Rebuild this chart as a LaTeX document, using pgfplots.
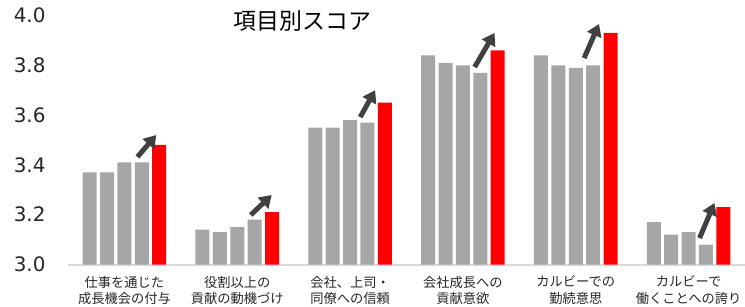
\documentclass[border=0pt]{standalone}
\usepackage{fontspec}
\setmainfont{DejaVu Sans}
\newfontfamily\cjk{Noto Sans CJK JP}
\usepackage{pgfplots}
\pgfplotsset{compat=1.18}
\usetikzlibrary{arrows.meta}
\definecolor{barg}{HTML}{A6A6A6}
\definecolor{arr}{HTML}{404040}
\definecolor{axl}{HTML}{D9D9D9}
\definecolor{txt}{HTML}{262626}
\begin{document}
\begin{tikzpicture}
\begin{axis}[name=ax, scale only axis, width=677bp, height=249bp,
  xmin=-0.5, xmax=5.5, ymin=3, ymax=4, clip mode=individual,
  axis x line*=bottom, axis y line*=left,
  x axis line style={draw=axl, line width=2bp, -},
  y axis line style={draw=none},
  major tick length=0pt,
  xtick={0,1,2,3,4,5},
  xticklabels={{仕事を通じた\\成長機会の付与},{役割以上の\\貢献の動機づけ},{会社、上司・\\同僚への信頼},{会社成長への\\貢献意欲},{カルビーでの\\勤続意思},{カルビーで\\働くことへの誇り}},
  xticklabel style={align=center, font=\cjk\fontsize{13.3}{16.5}\selectfont, text=txt, yshift=-8bp},
  ytick={3,3.2,3.4,3.6,3.8,4},
  yticklabel style={/pgf/number format/fixed, /pgf/number format/fixed zerofill, /pgf/number format/precision=1, /pgf/number format/assume math mode=true, font=\fontsize{20}{24}\selectfont, text=txt, xshift=-19bp},
]
\addplot[ybar, bar width=14bp, bar shift=-34.8bp, fill=barg, draw=none] coordinates {(0,3.37) (1,3.14) (2,3.55) (3,3.84) (4,3.84) (5,3.17)};
\addplot[ybar, bar width=14bp, bar shift=-17.4bp, fill=barg, draw=none] coordinates {(0,3.37) (1,3.13) (2,3.55) (3,3.81) (4,3.80) (5,3.12)};
\addplot[ybar, bar width=14bp, bar shift=0bp, fill=barg, draw=none] coordinates {(0,3.41) (1,3.15) (2,3.58) (3,3.80) (4,3.79) (5,3.13)};
\addplot[ybar, bar width=14bp, bar shift=17.4bp, fill=barg, draw=none] coordinates {(0,3.41) (1,3.18) (2,3.57) (3,3.77) (4,3.80) (5,3.08)};
\addplot[ybar, bar width=14bp, bar shift=34.8bp, fill=red, draw=none] coordinates {(0,3.48) (1,3.21) (2,3.65) (3,3.86) (4,3.93) (5,3.23)};
\pgfplotsset{arrstyle/.style={sharp plot, no marks, draw=arr, line width=5bp, -{Triangle[length=12bp,width=15bp]}, forget plot}}
\addplot[arrstyle] coordinates {(0.115,3.432) (0.282,3.520)};
\addplot[arrstyle] coordinates {(1.12,3.199) (1.305,3.279)};
\addplot[arrstyle] coordinates {(2.09,3.592) (2.222,3.70)};
\addplot[arrstyle] coordinates {(3.104,3.793) (3.28,3.93)};
\addplot[arrstyle] coordinates {(4.074,3.829) (4.206,3.966)};
\addplot[arrstyle] coordinates {(5.097,3.106) (5.229,3.247)};
\node[font=\cjk\fontsize{23}{27}\selectfont, text=black] at (rel axis cs:0.346,0.979) {項目別スコア};
\end{axis}
\pgfresetboundingbox
\path ([xshift=-68bp,yshift=-41.5bp]ax.south west) rectangle ([yshift=15.5bp]ax.north east);
\end{tikzpicture}
\end{document}
